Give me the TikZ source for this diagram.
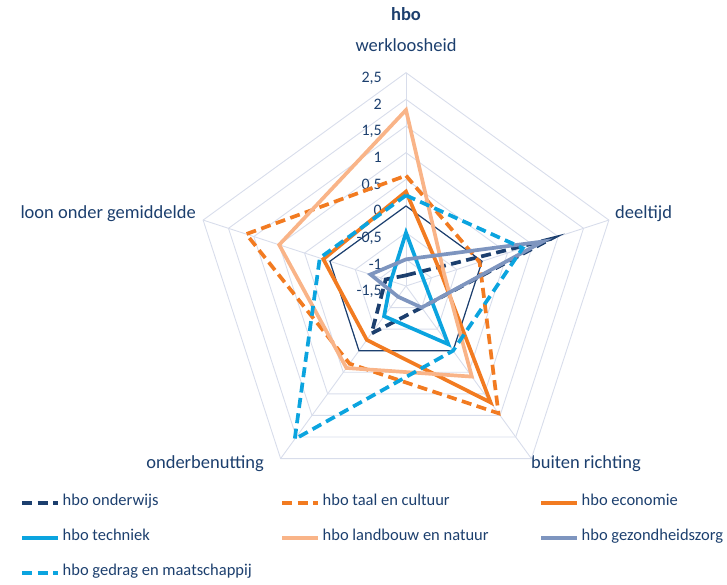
\documentclass[tikz,border=0pt]{standalone}
\usepackage{fontspec}
\setmainfont{Carlito}
\usetikzlibrary{calc}

\definecolor{donkerblauw}{HTML}{1C3F6E}
\definecolor{oranje}{HTML}{F27B21}
\definecolor{lichtoranje}{HTML}{F9B488}
\definecolor{lichtblauw}{HTML}{0BA4DF}
\definecolor{grijsblauw}{HTML}{7E95BF}
\definecolor{rasterkleur}{HTML}{D8DDEB}

% one unit on the value axis, in px
\newcommand{\eenheid}{53.33}

\tikzstyle{raster}=[draw=rasterkleur,
                    line width=0.9pt]
\tikzstyle{nullijn}=[draw=donkerblauw,
                     line width=1.2pt]
\tikzstyle{serie}=[line width=3.7pt]
\tikzstyle{gestreept}=[dash pattern=on 10pt off 5.5pt]
\tikzstyle{vol}=[]
\tikzstyle{aslabel}=[text=donkerblauw,
                     inner sep=0pt,
                     font=\fontsize{18.5}{22}\selectfont]
\tikzstyle{schaal}=[text=donkerblauw,
                    inner sep=0pt,
                    anchor=east,
                    font=\fontsize{16}{19}\selectfont]
\tikzstyle{legenda}=[text=donkerblauw,
                     inner sep=0pt,
                     anchor=west,
                     font=\fontsize{16.5}{20}\selectfont]

\begin{document}
\begin{tikzpicture}[x=1pt,y=-1pt,text height=1.5ex,text depth=0.25ex]
  \useasboundingbox (0,0) rectangle (727,584);

  % Title and axis names
  \node[aslabel, font=\bfseries\fontsize{18.5}{22}\selectfont] (Title) at (406,18) {hbo};
  \node[aslabel] (Axis_0) at (406,49) {werkloosheid};
  \node[aslabel, anchor=west] (Axis_1) at (615,216) {deeltijd};
  \node[aslabel, anchor=west] (Axis_2) at (531,466) {buiten richting};
  \node[aslabel, anchor=east] (Axis_3) at (264,466) {onderbenutting};
  \node[aslabel, anchor=east] (Axis_4) at (196,216) {loon onder gemiddelde};

  \begin{scope}[shift={(406,286)}]
    % The web: spokes and rings
    \foreach \h in {0,...,4}
      \draw[raster] (0,0) -- (-90+72*\h:{4*\eenheid});
    \foreach \k in {1,...,8}
      \draw[raster] (-90:{\k*\eenheid/2}) -- (-18:{\k*\eenheid/2}) -- (54:{\k*\eenheid/2})
        -- (126:{\k*\eenheid/2}) -- (198:{\k*\eenheid/2}) -- cycle;
    \draw[nullijn] (-90:{1.5*\eenheid}) -- (-18:{1.5*\eenheid}) -- (54:{1.5*\eenheid})
      -- (126:{1.5*\eenheid}) -- (198:{1.5*\eenheid}) -- cycle;

    % Values along the top axis
    \foreach \w/\t [count=\k from 0] in {-1.5/{-1,5},-1/{-1},-0.5/{-0,5},0/{0},0.5/{0,5},1/{1},1.5/{1,5},2/{2},2.5/{2,5}}
      \node[schaal] (Tick_\k) at (-24,{-(\w+1.5)*\eenheid+7}) {\t};

    % The seven series: werkloosheid, deeltijd, buiten richting, onderbenutting, loon
    \foreach \kleur/\stijl/\a/\b/\c/\d/\e in {
        donkerblauw/gestreept/-1.3/1.35/-1.0/-0.4/-1.1,
        oranje/gestreept/0.57/-0.05/1.45/0.3/1.65,
        oranje/vol/0.27/-0.8/1.2/-0.25/0.13,
        lichtblauw/vol/-0.5/-1.15/-0.15/-0.8/-1.2,
        lichtoranje/vol/1.8/-0.75/0.6/0.4/1.0,
        grijsblauw/vol/-1.0/1.2/-1.0/-1.25/-0.8,
        lichtblauw/gestreept/0.2/0.8/0.0/2.05/0.2}
      \draw[serie, \kleur, \stijl] (-90:{(\a+1.5)*\eenheid}) -- (-18:{(\b+1.5)*\eenheid})
        -- (54:{(\c+1.5)*\eenheid}) -- (126:{(\d+1.5)*\eenheid})
        -- (198:{(\e+1.5)*\eenheid}) -- cycle;
  \end{scope}

  % Legend
  \foreach \x/\y/\kleur/\stijl/\tekst [count=\i] in {
      22/503/donkerblauw/gestreept/hbo onderwijs,
      282/503/oranje/gestreept/hbo taal en cultuur,
      541/503/oranje/vol/hbo economie,
      22/538/lichtblauw/vol/hbo techniek,
      282/538/lichtoranje/vol/hbo landbouw en natuur,
      541/538/grijsblauw/vol/hbo gezondheidszorg,
      22/573/lichtblauw/gestreept/hbo gedrag en maatschappij}
  {
    \coordinate (Key_\i) at (\x,\y);
    \node[legenda] (Entry_\i) at ($(Key_\i)+(40.5,0)$) {\tekst};
    \draw[serie, \kleur, \stijl] (Key_\i) -- ($(Entry_\i.west)+(-4.5,0)$);
  }
\end{tikzpicture}
\end{document}
